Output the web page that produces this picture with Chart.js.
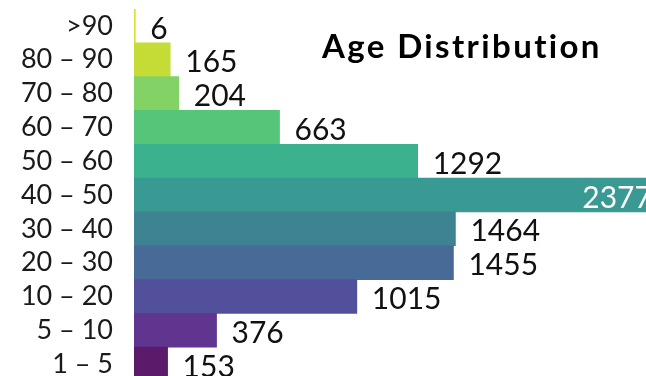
<!DOCTYPE html>
<html>
<head>
<meta charset="utf-8">
<script src="https://cdn.jsdelivr.net/npm/chart.js@4/dist/chart.umd.min.js"></script>
<style>
  html, body { margin: 0; padding: 0; background: #ffffff; overflow: hidden; }
  #wrap { position: relative; width: 646px; height: 376px; overflow: hidden; }
  #c { display: block; }
</style>
</head>
<body>
<div id="wrap"><canvas id="c" width="646" height="392"></canvas></div>
<script>
const categories = [">90", "80 – 90", "70 – 80", "60 – 70", "50 – 60", "40 – 50", "30 – 40", "20 – 30", "10 – 20", "5 – 10", "1 – 5"];
const counts = [6, 165, 204, 663, 1292, 2377, 1464, 1455, 1015, 376, 153];
const barColors = ["#dde030", "#c6dc36", "#83d266", "#56c57a", "#3cb18e", "#389a93", "#3d8392", "#476a97", "#52509a", "#60358f", "#5b1a6a"];
const labelColors = ["#111", "#111", "#111", "#111", "#111", "#ffffff", "#111", "#111", "#111", "#111", "#111"];
const titleText = "Age Distribution";
const FONT = "Lato, 'Noto Sans', sans-serif";

const valueLabels = {
  id: 'valueLabels',
  afterDatasetsDraw(chart) {
    const ctx = chart.ctx;
    const meta = chart.getDatasetMeta(0);
    ctx.save();
    ctx.font = "30px " + FONT;
    ctx.textBaseline = 'middle';
    meta.data.forEach((bar, i) => {
      const inside = labelColors[i] === "#ffffff";
      ctx.fillStyle = labelColors[i];
      if (inside) {
        ctx.textAlign = 'right';
        ctx.fillText(String(counts[i]), bar.x - 4, bar.y + 3);
      } else {
        ctx.textAlign = 'left';
        ctx.fillText(String(counts[i]), bar.x + 15, bar.y + 3);
      }
    });
    ctx.restore();
  }
};

const titlePlugin = {
  id: 'innerTitle',
  afterDraw(chart) {
    const ctx = chart.ctx;
    ctx.save();
    ctx.font = "bold 33px " + FONT;
    const w = ctx.measureText(titleText).width;
    const target = 278;
    const sp = Math.max(0, (target - w) / (titleText.length - 1));
    ctx.letterSpacing = sp.toFixed(2) + "px";
    ctx.fillStyle = "#000";
    ctx.textAlign = 'left';
    ctx.textBaseline = 'alphabetic';
    ctx.fillText(titleText, 322, 58);
    ctx.restore();
  }
};

new Chart(document.getElementById('c'), {
  type: 'bar',
  data: {
    labels: categories,
    datasets: [{
      data: counts,
      backgroundColor: barColors,
      borderWidth: 0,
      barPercentage: 1,
      categoryPercentage: 1
    }]
  },
  options: {
    indexAxis: 'y',
    responsive: false,
    animation: false,
    layout: { padding: { top: 9, bottom: 11, left: 0, right: 0 } },
    plugins: { legend: { display: false }, tooltip: { enabled: false }, title: { display: false } },
    scales: {
      x: { display: false, min: 0, max: 2332 },
      y: {
        grid: { display: false, drawTicks: false },
        border: { display: true, color: '#d9d9d9', width: 1 },
        ticks: { color: '#1a1a1a', font: { family: FONT, size: 27 }, padding: 21, autoSkip: false },
        afterFit(scale) {
          scale.width = 134;
          scale.paddingTop = 0;
          scale.paddingBottom = 0;
        }
      }
    }
  },
  plugins: [valueLabels, titlePlugin]
});
</script>
</body>
</html>
